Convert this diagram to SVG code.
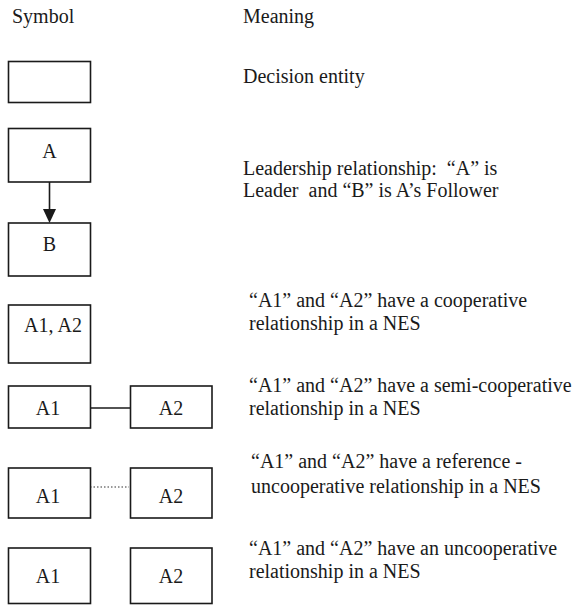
<svg xmlns="http://www.w3.org/2000/svg" width="579" height="605" viewBox="0 0 579 605">
<rect width="579" height="605" fill="#fff"/>
<g id="headers" font-family="Times New Roman, Liberation Serif, serif" font-size="20" fill="#1a1a1a">
<text x="12" y="23">Symbol</text>
<text x="243" y="23">Meaning</text>
</g>
<g id="connectors" stroke="#1a1a1a" stroke-width="1.6" fill="none">
<line x1="49.5" y1="182" x2="49.5" y2="211"/>
<path d="M43,209 L56,209 L49.5,223 Z" fill="#1a1a1a" stroke="none"/>
<line x1="90" y1="408" x2="130" y2="408"/>
<line x1="90" y1="487" x2="129" y2="487" stroke="#333" stroke-width="1.2" stroke-dasharray="1.5 2"/>
</g>
<g id="nodes" font-family="Times New Roman, Liberation Serif, serif" font-size="20" fill="#1a1a1a" text-anchor="middle">
<g id="entity"><rect x="8.5" y="61.5" width="82" height="41" fill="#fff" stroke="#1a1a1a" stroke-width="1.6"/></g>
<g id="nodeA"><rect x="8.5" y="128.5" width="82" height="53.5" fill="#fff" stroke="#1a1a1a" stroke-width="1.6"/><text x="49.5" y="158">A</text></g>
<g id="nodeB"><rect x="8.5" y="223" width="82" height="53" fill="#fff" stroke="#1a1a1a" stroke-width="1.6"/><text x="49.5" y="251">B</text></g>
<g id="nodeA1A2"><rect x="8.5" y="305" width="82" height="58" fill="#fff" stroke="#1a1a1a" stroke-width="1.6"/><text x="53" y="332">A1, A2</text></g>
<g id="semiA1"><rect x="8.5" y="386" width="82" height="42" fill="#fff" stroke="#1a1a1a" stroke-width="1.6"/><text x="48" y="415">A1</text></g>
<g id="semiA2"><rect x="130.5" y="386" width="81.5" height="42" fill="#fff" stroke="#1a1a1a" stroke-width="1.6"/><text x="171" y="415">A2</text></g>
<g id="refA1"><rect x="8.5" y="468" width="82" height="50" fill="#fff" stroke="#1a1a1a" stroke-width="1.6"/><text x="48" y="503">A1</text></g>
<g id="refA2"><rect x="130.5" y="468" width="81.5" height="50" fill="#fff" stroke="#1a1a1a" stroke-width="1.6"/><text x="171" y="503">A2</text></g>
<g id="uncA1"><rect x="8.5" y="548" width="82" height="55.5" fill="#fff" stroke="#1a1a1a" stroke-width="1.6"/><text x="48" y="583">A1</text></g>
<g id="uncA2"><rect x="130.5" y="548" width="81.5" height="55.5" fill="#fff" stroke="#1a1a1a" stroke-width="1.6"/><text x="171" y="583">A2</text></g>
</g>
<g id="meanings" font-family="Times New Roman, Liberation Serif, serif" font-size="20" fill="#1a1a1a">
<text x="243" y="83">Decision entity</text>
<text x="243" y="175">Leadership relationship:&#160; “A” is</text>
<text x="243" y="197">Leader&#160; and “B” is A’s Follower</text>
<text x="249" y="307">“A1” and “A2” have a cooperative</text>
<text x="249" y="330">relationship in a NES</text>
<text x="249" y="392">“A1” and “A2” have a semi-cooperative</text>
<text x="249" y="415">relationship in a NES</text>
<text x="251" y="468">“A1” and “A2” have a reference -</text>
<text x="251" y="493">uncooperative relationship in a NES</text>
<text x="249" y="555">“A1” and “A2” have an uncooperative</text>
<text x="249" y="578">relationship in a NES</text>
</g>
</svg>
